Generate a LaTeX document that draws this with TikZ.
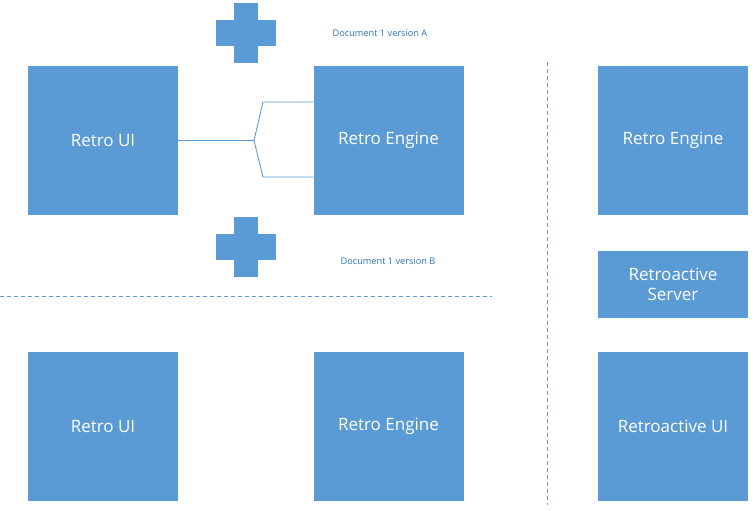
\documentclass[tikz,border=0pt]{standalone}
\usepackage{fontspec}
\setmainfont{Open Sans}
\definecolor{boxblue}{HTML}{5B9BD5}
\definecolor{noteblue}{HTML}{2E75B6}
\tikzset{
  block/.style={fill=boxblue, text=white, minimum width=150pt, minimum height=149pt,
    font=\fontsize{17}{20}\selectfont, align=center, inner sep=0pt},
  note/.style={text=noteblue, font=\fontsize{9.2}{11}\selectfont},
  link/.style={draw=boxblue, line width=0.9pt},
  split/.style={draw=boxblue, dashed, line width=0.9pt, dash pattern=on 4pt off 3pt}
}

\begin{document}
\begin{tikzpicture}[x=1pt,y=-1pt]
  \useasboundingbox (0,0) rectangle (755,511);

  % version A
  \node[block] (ui1) at (103,140.5) {Retro UI};
  \node[block] (engine1) at (388.5,140.5) {Retro Engine};
  \node[note] (docA) at (380,33) {Document 1 version A};
  \node[note] (docB) at (388,261) {Document 1 version B};

  % plus signs
  \foreach \y in {33,247} {
    \fill[boxblue] (234,\y-30) rectangle (258,\y+30);
    \fill[boxblue] (216,\y-13) rectangle (276,\y+13);
  }

  % fork between ui and engine
  \coordinate (fork) at (254,140.5);
  \coordinate (upper) at (263,102);
  \coordinate (lower) at (263,177);
  \draw[link] (ui1.east) -- (fork);
  \draw[link] (fork) -- (upper) -- (upper -| engine1.west);
  \draw[link] (fork) -- (lower) -- (lower -| engine1.west);

  % version B
  \node[block] (ui2) at (103,426.5) {Retro UI};
  \node[block] (engine2) at (388.5,426.5) {Retro Engine};

  % retroactive
  \node[block] (engine3) at (673,140.5) {Retro Engine};
  \node[block, minimum height=67pt] (server) at (673,284.5) {Retroactive\\Server};
  \node[block] (ui3) at (673,426.5) {Retroactive UI};

  % separators
  \coordinate (hl) at (0,296);
  \coordinate (hr) at (492,296);
  \coordinate (vt) at (547,62);
  \coordinate (vb) at (547,505);
  \draw[split] (hl) -- (hr);
  \draw[split] (vt) -- (vb);
\end{tikzpicture}
\end{document}
